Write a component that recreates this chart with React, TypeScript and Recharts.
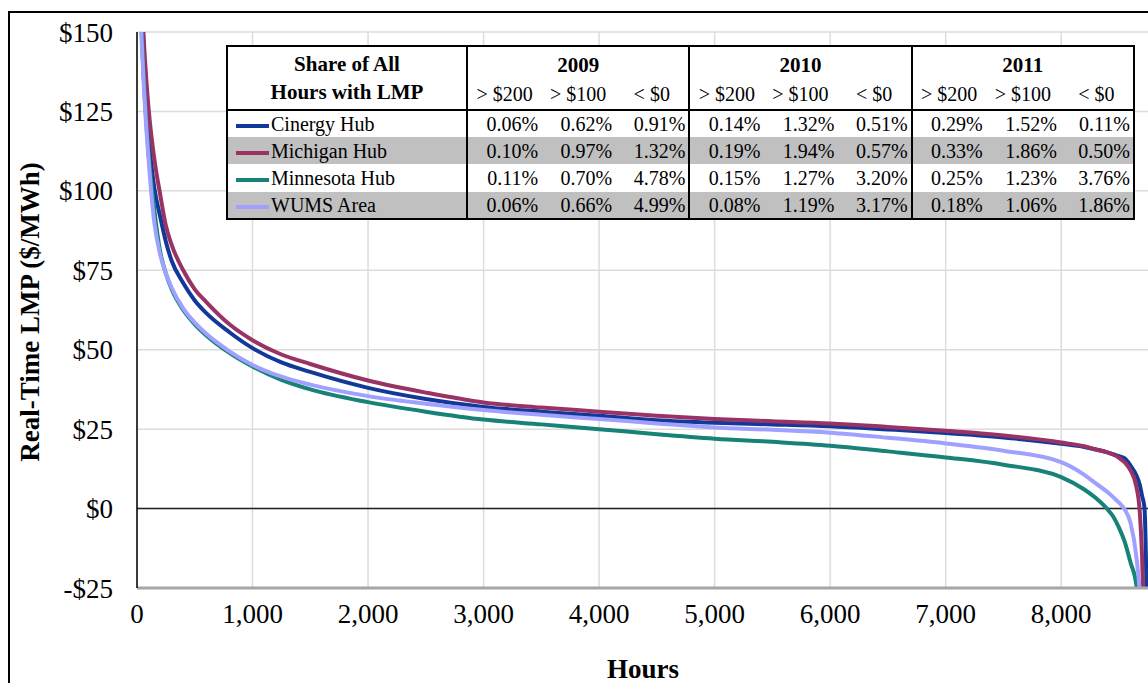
import { LineChart, Line, XAxis, YAxis, CartesianGrid, ReferenceLine } from 'recharts';

// hours of the year, sorted price duration
const HOURS = [
  0, 25, 50, 75, 100, 150, 200, 250, 300, 400, 500, 600, 800, 1000, 1250, 1500,
  2000, 2500, 3000, 3500, 4000, 4500, 5000, 5500, 6000, 6500, 7000, 7500, 8000,
  8200, 8300, 8400, 8450, 8500, 8550, 8600, 8650, 8680, 8700, 8720, 8740, 8760,
];

const CINERGY = [
  240, 175, 145, 128, 117, 101, 92, 84, 78, 71, 65.5, 61.5, 55.5, 50.5, 46, 43,
  38, 34.5, 32, 30.5, 29.2, 27.8, 27, 26.5, 25.9, 24.9, 23.8, 22.4, 20.4,
  19.4, 18.6, 17.7, 17.1, 16.5, 15.8, 13.5, 10.5, 7.5, 4, 0.5, -30, -100,
];

const MICHIGAN = [
  260, 190, 155, 138, 126, 110, 99, 89, 83, 75, 69, 65, 58, 53, 48.5, 45.5,
  40.3, 36.5, 33.4, 31.8, 30.5, 29.2, 28.2, 27.5, 26.8, 25.7, 24.5, 23, 20.8,
  19.6, 18.6, 17.7, 17, 16, 14.5, 12, 7, -1, -15, -40, -80, -150,
];

const MINNESOTA = [
  235, 170, 142, 125, 112, 94, 81, 74, 69, 62.5, 58, 54.5, 49, 44.7, 40.5, 37.5,
  33.5, 30.5, 28, 26.5, 25, 23.4, 22, 21, 19.8, 18, 16.1, 13.8, 9.9,
  6, 3.3, -0.2, -2.5, -6, -10.5, -17, -24, -35, -55, -90, -130, -170,
];

const WUMS = [
  230, 165, 140, 123, 110, 90, 80, 74, 69.5, 63, 58.5, 55, 49.5, 45.2, 41.5, 39,
  35.4, 33, 31, 29.5, 28.2, 26.8, 25.5, 24.8, 23.9, 22.3, 20.5, 18.2, 14.6,
  10.6, 7.9, 5.2, 3.6, 1.9, -0.3, -4.5, -15, -27, -45, -80, -120, -160,
];

const X_TICKS = [0, 1000, 2000, 3000, 4000, 5000, 6000, 7000, 8000];
const Y_TICKS = [-25, 0, 25, 50, 75, 100, 125, 150];

// table in the chart
const YEARS = ['2009', '2010', '2011'];
const THRESHOLDS = ['> $200', '> $100', '< $0'];
const HUBS = ['Cinergy Hub', 'Michigan Hub', 'Minnesota Hub', 'WUMS Area'];
const SHARE_CINERGY = ['0.06%', '0.62%', '0.91%', '0.14%', '1.32%', '0.51%', '0.29%', '1.52%', '0.11%'];
const SHARE_MICHIGAN = ['0.10%', '0.97%', '1.32%', '0.19%', '1.94%', '0.57%', '0.33%', '1.86%', '0.50%'];
const SHARE_MINNESOTA = ['0.11%', '0.70%', '4.78%', '0.15%', '1.27%', '3.20%', '0.25%', '1.23%', '3.76%'];
const SHARE_WUMS = ['0.06%', '0.66%', '4.99%', '0.08%', '1.19%', '3.17%', '0.18%', '1.06%', '1.86%'];

const COLORS = ['#12399a', '#993366', '#168278', '#a0a0ff'];
const KEYS = ['cinergy', 'michigan', 'minnesota', 'wums'];
const SHARES = [SHARE_CINERGY, SHARE_MICHIGAN, SHARE_MINNESOTA, SHARE_WUMS];

const data = HOURS.map((hour, i) => ({
  hour,
  cinergy: CINERGY[i],
  michigan: MICHIGAN[i],
  minnesota: MINNESOTA[i],
  wums: WUMS[i],
}));

const FONT = '"Liberation Serif", "Times New Roman", serif';
const BORDER = '2px solid #000';

const money = (v: number) => (v < 0 ? `-$${Math.abs(v)}` : `$${v}`);

function ShareTable() {
  const cell = {
    padding: 0,
    fontFamily: FONT,
    fontSize: 20,
    lineHeight: '20px',
    color: '#000',
  } as const;
  return (
    <table
      style={{
        position: 'absolute',
        left: 226,
        top: 45,
        width: 907,
        height: 173,
        borderCollapse: 'collapse',
        tableLayout: 'fixed',
        border: BORDER,
        background: '#fff',
      }}
    >
      <colgroup>
        <col style={{ width: 240 }} />
        {SHARE_CINERGY.map((_, i) => (
          <col key={i} style={{ width: 74.1 }} />
        ))}
      </colgroup>
      <tbody>
        <tr style={{ height: 32 }}>
          <td
            rowSpan={2}
            style={{
              ...cell,
              fontWeight: 'bold',
              textAlign: 'center',
              borderRight: BORDER,
              borderBottom: BORDER,
              lineHeight: '28px',
              fontSize: 21,
            }}
          >
            Share of All
            <br />
            Hours with LMP
          </td>
          {YEARS.map((y) => (
            <td
              key={y}
              colSpan={3}
              style={{ ...cell, fontSize: 21, fontWeight: 'bold', textAlign: 'center', borderRight: BORDER, paddingTop: 4 }}
            >
              {y}
            </td>
          ))}
        </tr>
        <tr style={{ height: 32 }}>
          {YEARS.map((y) =>
            THRESHOLDS.map((t, j) => (
              <td
                key={y + t}
                style={{
                  ...cell,
                  textAlign: 'center',
                  borderBottom: BORDER,
                  borderRight: j === 2 ? BORDER : undefined,
                }}
              >
                {t}
              </td>
            )),
          )}
        </tr>
        {HUBS.map((hub, r) => (
          <tr key={hub} style={{ height: r === 2 ? 28 : 27, background: r % 2 === 1 ? '#c0c0c0' : '#fff' }}>
            <td style={{ ...cell, borderRight: BORDER, whiteSpace: 'nowrap' }}>
              <span
                style={{
                  display: 'inline-block',
                  width: 33,
                  height: 4,
                  marginLeft: 8,
                  marginRight: 2,
                  verticalAlign: 'middle',
                  background: COLORS[r],
                }}
              />
              {hub}
            </td>
            {SHARES[r].map((v, j) => (
              <td
                key={j}
                style={{
                  ...cell,
                  textAlign: 'right',
                  paddingRight: 3,
                  borderRight: j % 3 === 2 ? BORDER : undefined,
                }}
              >
                {v}
              </td>
            ))}
          </tr>
        ))}
      </tbody>
    </table>
  );
}

export default function App() {
  return (
    <div
      style={{
        position: 'absolute',
        left: 0,
        top: 0,
        width: 1148,
        height: 683,
        overflow: 'hidden',
        background: '#fff',
        fontFamily: FONT,
      }}
    >
      <div
        style={{
          position: 'absolute',
          left: 8,
          top: 11,
          width: 1200,
          height: 720,
          borderLeft: BORDER,
          borderTop: BORDER,
        }}
      />
      <div style={{ position: 'absolute', left: 0, top: 0 }}>
        <LineChart width={1149} height={683} data={data} margin={{ top: 32, right: 0, left: 0, bottom: 0 }}>
          <CartesianGrid stroke="#dcdcdc" strokeWidth={1.5} />
          <XAxis
            dataKey="hour"
            type="number"
            domain={[0, 8760]}
            ticks={X_TICKS}
            allowDataOverflow
            height={95}
            tickSize={0}
            tickMargin={16}
            tickFormatter={(v: number) => v.toLocaleString('en-US')}
            tick={{ fontFamily: FONT, fontSize: 27, fill: '#000' }}
            axisLine={{ stroke: '#a6a6a6', strokeWidth: 3 }}
            label={{
              content: ({ viewBox }: any) => (
                <text
                  x={viewBox.x + viewBox.width / 2}
                  y={678}
                  textAnchor="middle"
                  fontFamily={FONT}
                  fontSize={27}
                  fontWeight="bold"
                  fill="#000"
                >
                  Hours
                </text>
              ),
            }}
          />
          <YAxis
            type="number"
            domain={[-25, 150]}
            ticks={Y_TICKS}
            allowDataOverflow
            width={137}
            tickSize={0}
            tickMargin={24}
            tickFormatter={money}
            tick={{ fontFamily: FONT, fontSize: 27, fill: '#000' }}
            axisLine={{ stroke: '#000', strokeWidth: 1.5 }}
            label={{
              content: ({ viewBox }: any) => (
                <text
                  x={39}
                  y={viewBox.y + viewBox.height / 2 + 2}
                  transform={`rotate(-90 39 ${viewBox.y + viewBox.height / 2 + 2})`}
                  textAnchor="middle"
                  fontFamily={FONT}
                  fontSize={27}
                  fontWeight="bold"
                  fill="#000"
                >
                  Real-Time LMP ($/MWh)
                </text>
              ),
            }}
          />
          <ReferenceLine y={0} stroke="#222" strokeWidth={1.5} />
          {KEYS.map((k, i) => (
            <Line
              key={k}
              dataKey={k}
              name={HUBS[i]}
              type="monotone"
              stroke={COLORS[i]}
              strokeWidth={4}
              dot={false}
              activeDot={false}
              isAnimationActive={false}
            />
          ))}
        </LineChart>
      </div>
      <ShareTable />
    </div>
  );
}
